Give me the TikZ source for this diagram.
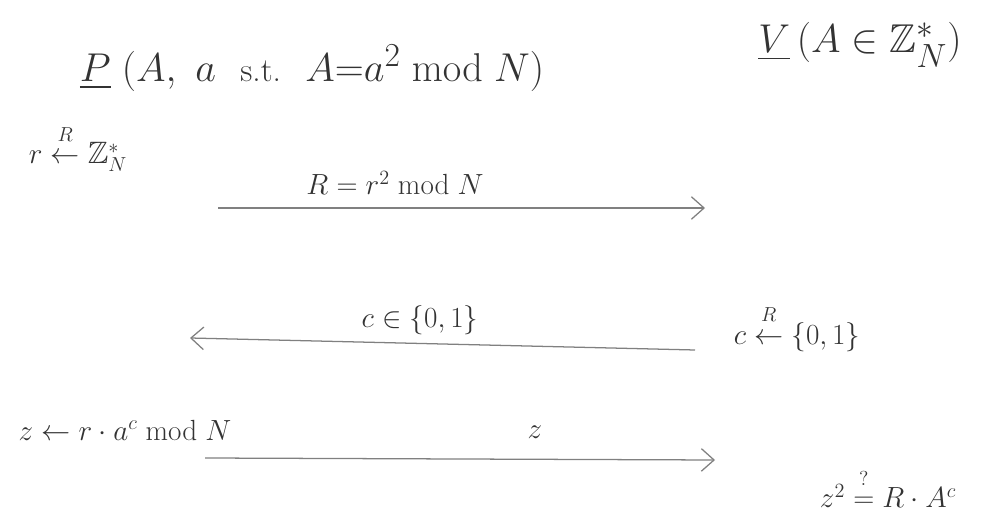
\documentclass[tikz,border=0pt]{standalone}
\usepackage{amsmath,amssymb}
\usetikzlibrary{arrows.meta}

\tikzset{
  party/.style={font=\fontsize{24.88}{30}\selectfont, text=black!80, inner sep=0pt, transform shape, scale=1.15},
  lbl/.style={font=\fontsize{22}{26}\selectfont, text=black!80, inner sep=0pt},
  msg/.style={-{Straight Barb[length=9pt,width=16pt]}, draw=black!50, line width=0.9pt}
}
\newcommand{\rndfrom}{\mathrel{\overset{\raisebox{4pt}{$\scriptstyle R$}}{\leftarrow}}}
\newcommand{\qeq}{\mathrel{\overset{\raisebox{4pt}{$\scriptstyle ?$}}{=}}}

\begin{document}
\begin{tikzpicture}[x=0.025cm, y=-0.025cm]
  \useasboundingbox (0,0) rectangle (993,523);

  % --- parti ---
  \node[party] (prover) at (312,68) {$\underline{P}\;(A,\ a$\ \ {\fontsize{20.74}{24}\selectfont s.t.}\ \ $A{=}a^2 \bmod N)$};
  \node[party] (verifier) at (860,45) {$\underline{V}\,(A \in \mathbb{Z}_N^{*})$};

  % --- commit ---
  \node[lbl] (rnd) at (78,148) {$r \rndfrom \mathbb{Z}_N^{*}$};
  \node[lbl] (msgR) at (395,183) {$R = r^2 \bmod N$};
  \coordinate (c1s) at (218,208);
  \coordinate (c1e) at (705,208);
  \draw[msg] (c1s) -- (c1e);

  % --- challenge ---
  \node[lbl] (msgc) at (420,320) {$c \in \{0,1\}$};
  \node[lbl] (chal) at (797,328) {$c \rndfrom \{0,1\}$};
  \coordinate (c2s) at (695,350);
  \coordinate (c2e) at (190,338);
  \draw[msg] (c2s) -- (c2e);

  % --- risposta ---
  \node[lbl] (resp) at (125,430) {$z \leftarrow r\cdot a^{c} \bmod N$};
  \node[lbl] (msgz) at (535,432) {$z$};
  \coordinate (c3s) at (205,458);
  \coordinate (c3e) at (715,460);
  \draw[msg] (c3s) -- (c3e);

  % --- verifica ---
  \node[lbl] (check) at (888,488) {$z^2 \qeq R\cdot A^{c}$};

\end{tikzpicture}
\end{document}
